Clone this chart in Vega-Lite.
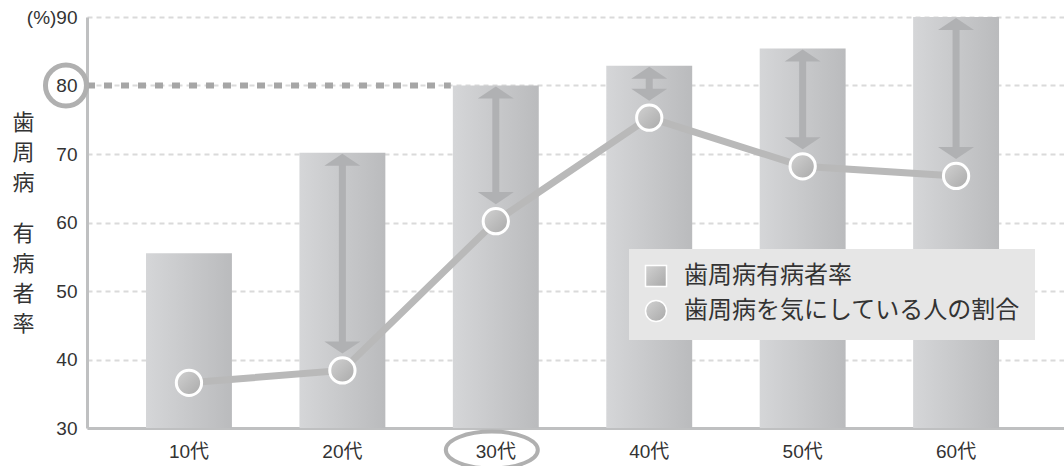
{
  "$schema": "https://vega.github.io/schema/vega-lite/v6.json",
  "autosize": "none",
  "width": 977,
  "height": 411,
  "padding": {"left": 87, "top": 17, "right": 0, "bottom": 38},
  "background": "white",
  "config": {
    "view": {"stroke": null},
    "font": "Liberation Sans, Noto Sans CJK JP",
    "axis": {"labelFont": "Liberation Sans, Noto Sans CJK JP", "labelColor": "#333333", "titleFont": "Noto Sans CJK JP"}
  },
  "datasets": {
    "main": [
      {"cat": "10代", "prev": 55.5, "worry": 36.6, "arrow": false, "s2": "歯周病を気にしている人の割合"},
      {"cat": "20代", "prev": 70.2, "worry": 38.4, "arrow": true, "s2": "歯周病を気にしている人の割合"},
      {"cat": "30代", "prev": 80, "worry": 60.2, "arrow": true, "s2": "歯周病を気にしている人の割合"},
      {"cat": "40代", "prev": 82.9, "worry": 75.3, "arrow": true, "s2": "歯周病を気にしている人の割合"},
      {"cat": "50代", "prev": 85.4, "worry": 68.2, "arrow": true, "s2": "歯周病を気にしている人の割合"},
      {"cat": "60代", "prev": 90, "worry": 66.8, "arrow": true, "s2": "歯周病を気にしている人の割合"}
    ],
    "ref": [
      {"from": "10代", "to": "30代", "v": 80}
    ],
    "ring": [
      {"cat": "10代", "v": 80}
    ],
    "oval": [
      {"cat": "30代", "v": 30}
    ]
  },
  "encoding": {
    "x": {
      "field": "cat", "type": "nominal",
      "sort": ["10代", "20代", "30代", "40代", "50代", "60代"],
      "scale": {"type": "band", "domain": ["10代", "20代", "30代", "40代", "50代", "60代"], "paddingInner": 0.44, "paddingOuter": 0.404, "align": 0.476},
      "axis": {
        "labelAngle": 0, "labelFontSize": 19, "labelPadding": 14, "ticks": false, "domainColor": "#bfc0c1", "domainWidth": 3, "grid": false,
        "title": ["有", "病", "者", "率"],
        "titleAngle": 0, "titleFontSize": 22, "titleFontWeight": "normal", "titleColor": "#333333",
        "titleLineHeight": 30, "titleX": -64, "titleY": -205, "titleAlign": "center", "titleBaseline": "top"
      }
    }
  },
  "layer": [
    {
      "data": {"name": "main"},
      "mark": {"type": "bar", "fill": {"gradient": "linear", "x1": 0, "y1": 0, "x2": 1, "y2": 0, "stops": [{"offset": 0, "color": "#d5d6d8"}, {"offset": 1, "color": "#babbbd"}]}},
      "encoding": {
        "y": {
          "field": "prev", "type": "quantitative",
          "scale": {"domain": [30, 90], "nice": false, "zero": false},
          "axis": {
            "values": [30, 40, 50, 60, 70, 80, 90],
            "labelExpr": "datum.value == 90 ? '(%)90' : datum.label",
            "labelFontSize": 19, "labelPadding": 10, "labelFlush": false, "ticks": false,
            "domainColor": "#bfc0c1", "domainWidth": 3,
            "grid": true, "gridColor": "#dadada", "gridDash": [5, 4], "gridWidth": 2,
            "title": ["歯", "周", "病"],
            "titleAngle": 0, "titleFontSize": 22, "titleFontWeight": "normal", "titleColor": "#333333",
            "titleLineHeight": 30, "titleX": -64, "titleY": 95, "titleAlign": "center", "titleBaseline": "top"
          }
        },
        "y2": {"datum": 30}
      }
    },
    {
      "data": {"name": "ref"},
      "mark": {"type": "rule", "color": "#a6a6a6", "strokeWidth": 6, "strokeDash": [8, 9], "xOffset": -59, "x2Offset": -45},
      "encoding": {
        "x": {"field": "from", "type": "nominal", "bandPosition": 0},
        "x2": {"field": "to"},
        "y": {"field": "v", "type": "quantitative"}
      }
    },
    {
      "data": {"name": "main"},
      "transform": [{"filter": "datum.arrow"}],
      "mark": {"type": "rule", "color": "#b0b1b3", "strokeWidth": 7, "yOffset": 9, "y2Offset": -22},
      "encoding": {
        "y": {"field": "prev", "type": "quantitative"},
        "y2": {"field": "worry"}
      }
    },
    {
      "data": {"name": "main"},
      "transform": [{"filter": "datum.arrow"}],
      "mark": {"type": "point", "shape": "M0,0L1,0.667L-1,0.667Z", "size": 1296, "filled": true, "color": "#b0b1b3", "opacity": 1, "yOffset": 1},
      "encoding": {
        "y": {"field": "prev", "type": "quantitative"}
      }
    },
    {
      "data": {"name": "main"},
      "transform": [{"filter": "datum.arrow"}],
      "mark": {"type": "point", "shape": "M0,0L1,-0.667L-1,-0.667Z", "size": 1296, "filled": true, "color": "#b0b1b3", "opacity": 1, "yOffset": -17},
      "encoding": {
        "y": {"field": "worry", "type": "quantitative"}
      }
    },
    {
      "data": {"name": "main"},
      "mark": {"type": "line", "color": "#b9b9b9", "strokeWidth": 7},
      "encoding": {
        "y": {"field": "worry", "type": "quantitative"}
      }
    },
    {
      "data": {"name": "main"},
      "mark": {"type": "point", "filled": true, "size": 640, "opacity": 1, "stroke": "white", "strokeWidth": 3,
        "fill": {"gradient": "linear", "x1": 0, "y1": 0, "x2": 1, "y2": 1, "stops": [{"offset": 0, "color": "#d2d2d2"}, {"offset": 1, "color": "#a9a9a9"}]}},
      "encoding": {
        "y": {"field": "worry", "type": "quantitative"},
        "shape": {
          "field": "s2", "type": "nominal",
          "scale": {"domain": ["歯周病有病者率", "歯周病を気にしている人の割合"], "range": ["square", "circle"]},
          "legend": {
            "orient": "none", "legendX": 542, "legendY": 232, "title": null,
            "fillColor": "#e6e6e6", "padding": 15, "rowPadding": 7,
            "labelFont": "Noto Sans CJK JP", "labelFontSize": 24, "labelColor": "#333333", "labelOffset": 16, "labelLimit": 600,
            "labelExpr": "datum.label + '　'",
            "symbolSize": 440,
            "encode": {"symbols": {"update": {"fill": {"value": "#c3c4c6"}, "stroke": {"value": "white"}, "strokeWidth": {"value": 2}, "opacity": {"value": 1}}}}
          }
        }
      }
    },
    {
      "data": {"name": "ring"},
      "mark": {"type": "point", "filled": false, "size": 1681, "stroke": "#b0b0b0", "strokeWidth": 5, "opacity": 1, "xOffset": -123},
      "encoding": {
        "y": {"field": "v", "type": "quantitative"}
      }
    },
    {
      "data": {"name": "oval"},
      "mark": {"type": "point", "filled": false, "shape": "M-1,0A1,0.4 0 1,0 1,0A1,0.4 0 1,0 -1,0Z", "size": 8464, "stroke": "#b0b0b0", "strokeWidth": 4, "opacity": 1, "xOffset": -4, "yOffset": 22},
      "encoding": {
        "y": {"field": "v", "type": "quantitative"}
      }
    }
  ]
}
